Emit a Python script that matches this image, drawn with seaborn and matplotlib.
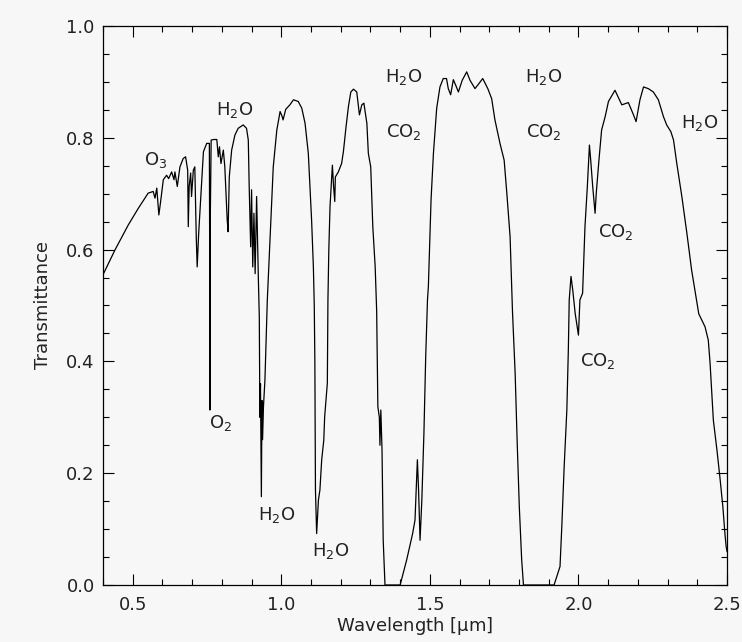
import numpy as np
import pandas as pd
import matplotlib
matplotlib.use("Agg")
import matplotlib.pyplot as plt
import seaborn as sns
from matplotlib.ticker import MultipleLocator

# wavelength [um] and transmittance
wavelength = [
    0.400, 0.440, 0.485, 0.519, 0.552, 0.569, 0.575, 0.581, 0.588, 0.594,
    0.603, 0.614, 0.621, 0.631, 0.639, 0.642, 0.650, 0.659, 0.670, 0.678,
    0.685, 0.687, 0.690, 0.695, 0.698, 0.704, 0.709, 0.714, 0.717, 0.722,
    0.730, 0.738, 0.749, 0.758, 0.759, 0.760, 0.761, 0.764, 0.774, 0.783,
    0.788, 0.792, 0.797, 0.805, 0.810, 0.818, 0.821, 0.825, 0.833, 0.844,
    0.855, 0.872, 0.883, 0.889, 0.892, 0.897, 0.900, 0.904, 0.908, 0.912,
    0.917, 0.923, 0.926, 0.928, 0.930, 0.933, 0.935, 0.937, 0.940, 0.945,
    0.947, 0.953, 0.964, 0.973, 0.985, 0.996, 1.003, 1.006, 1.015, 1.029,
    1.041, 1.057, 1.069, 1.080, 1.091, 1.102, 1.108, 1.111, 1.113, 1.115,
    1.119, 1.125, 1.130, 1.136, 1.143, 1.146, 1.155, 1.157, 1.160, 1.164,
    1.172, 1.176, 1.180, 1.182, 1.192, 1.203, 1.209, 1.218, 1.226, 1.234,
    1.243, 1.254, 1.263, 1.271, 1.278, 1.288, 1.293, 1.301, 1.308, 1.316,
    1.321, 1.325, 1.330, 1.332, 1.335, 1.339, 1.343, 1.349, 1.400, 1.422,
    1.442, 1.450, 1.458, 1.462, 1.467, 1.473, 1.480, 1.486, 1.492, 1.495,
    1.504, 1.512, 1.523, 1.534, 1.545, 1.556, 1.562, 1.570, 1.579, 1.587,
    1.596, 1.609, 1.624, 1.635, 1.652, 1.678, 1.695, 1.708, 1.719, 1.736,
    1.750, 1.759, 1.770, 1.778, 1.787, 1.794, 1.801, 1.809, 1.815, 1.918,
    1.938, 1.944, 1.952, 1.961, 1.966, 1.969, 1.975, 1.981, 1.989, 2.000,
    2.005, 2.014, 2.022, 2.030, 2.037, 2.041, 2.048, 2.056, 2.060, 2.069,
    2.078, 2.090, 2.101, 2.123, 2.146, 2.168, 2.183, 2.194, 2.207, 2.219,
    2.235, 2.252, 2.269, 2.286, 2.297, 2.311, 2.320, 2.331, 2.348, 2.365,
    2.381, 2.405, 2.426, 2.437, 2.443, 2.454, 2.466, 2.477, 2.486, 2.493,
    2.497, 2.500,
]
transmittance = [
    0.555, 0.599, 0.644, 0.674, 0.701, 0.704, 0.692, 0.710, 0.662, 0.686,
    0.725, 0.733, 0.727, 0.739, 0.725, 0.739, 0.713, 0.748, 0.763, 0.766,
    0.742, 0.641, 0.713, 0.737, 0.695, 0.742, 0.748, 0.620, 0.569, 0.629,
    0.701, 0.775, 0.790, 0.790, 0.600, 0.313, 0.650, 0.796, 0.797, 0.797,
    0.766, 0.784, 0.754, 0.778, 0.748, 0.653, 0.632, 0.730, 0.778, 0.805,
    0.817, 0.823, 0.817, 0.796, 0.713, 0.605, 0.707, 0.569, 0.665, 0.557,
    0.695, 0.545, 0.480, 0.300, 0.360, 0.158, 0.330, 0.260, 0.319, 0.367,
    0.402, 0.510, 0.641, 0.748, 0.814, 0.847, 0.838, 0.832, 0.851, 0.859,
    0.868, 0.865, 0.853, 0.826, 0.772, 0.653, 0.569, 0.500, 0.400, 0.170,
    0.092, 0.152, 0.170, 0.224, 0.259, 0.301, 0.361, 0.510, 0.600, 0.677,
    0.751, 0.713, 0.686, 0.730, 0.739, 0.754, 0.775, 0.820, 0.856, 0.882,
    0.887, 0.882, 0.841, 0.859, 0.862, 0.826, 0.772, 0.748, 0.641, 0.569,
    0.490, 0.319, 0.300, 0.250, 0.313, 0.242, 0.080, 0.000, 0.000, 0.045,
    0.092, 0.116, 0.224, 0.170, 0.080, 0.152, 0.271, 0.408, 0.510, 0.534,
    0.689, 0.772, 0.853, 0.891, 0.906, 0.906, 0.888, 0.877, 0.904, 0.894,
    0.882, 0.903, 0.918, 0.903, 0.888, 0.906, 0.888, 0.870, 0.832, 0.790,
    0.760, 0.701, 0.623, 0.490, 0.379, 0.253, 0.140, 0.045, 0.000, 0.000,
    0.033, 0.104, 0.212, 0.313, 0.420, 0.510, 0.552, 0.527, 0.486, 0.447,
    0.510, 0.522, 0.641, 0.713, 0.787, 0.762, 0.713, 0.665, 0.701, 0.760,
    0.814, 0.838, 0.865, 0.885, 0.859, 0.863, 0.844, 0.829, 0.868, 0.891,
    0.888, 0.882, 0.868, 0.838, 0.823, 0.811, 0.796, 0.754, 0.695, 0.629,
    0.563, 0.485, 0.462, 0.438, 0.397, 0.295, 0.242, 0.188, 0.140, 0.092,
    0.069, 0.060,
]

# absorber labels: text, x, y
label_text = [r'O$_3$', r'H$_2$O', r'H$_2$O', r'CO$_2$', r'H$_2$O', r'CO$_2$',
              r'H$_2$O', r'CO$_2$', r'CO$_2$', r'O$_2$', r'H$_2$O', r'H$_2$O']
label_x = [0.578, 0.843, 1.413, 1.414, 1.883, 1.883,
           2.409, 2.125, 2.064, 0.797, 0.986, 1.165]
label_y = [0.760, 0.850, 0.909, 0.811, 0.909, 0.811,
           0.826, 0.632, 0.400, 0.289, 0.125, 0.060]

df = pd.DataFrame({'wavelength': wavelength, 'transmittance': transmittance})

sns.set_style('ticks')
plt.rcParams['font.family'] = ['DejaVu Sans']
plt.rcParams['mathtext.default'] = 'regular'

bg = '#f7f7f7'
fig = plt.figure(figsize=(7.42, 6.42), dpi=100, facecolor=bg)
ax = fig.add_axes([0.1388, 0.0888, 0.841, 0.8707])
ax.set_facecolor(bg)

sns.lineplot(data=df, x='wavelength', y='transmittance', ax=ax,
             color='black', lw=0.9, sort=False, estimator=None)

for t, x, y in zip(label_text, label_x, label_y):
    ax.text(x, y, t, ha='center', va='center', fontsize=13, color='#222222')

ax.set_xlim(0.4, 2.5)
ax.set_ylim(0.0, 1.0)
ax.xaxis.set_major_locator(MultipleLocator(0.5))
ax.xaxis.set_minor_locator(MultipleLocator(0.1))
ax.yaxis.set_major_locator(MultipleLocator(0.2))
ax.yaxis.set_minor_locator(MultipleLocator(0.05))
ax.tick_params(which='both', direction='in', top=True, right=True,
               width=0.8, colors='black', labelsize=13, labelcolor='#222222')
ax.tick_params(which='major', length=8)
ax.tick_params(which='minor', length=4)
ax.tick_params(axis='x', which='major', pad=8)
ax.tick_params(axis='y', which='major', pad=6)
for s in ax.spines.values():
    s.set_linewidth(0.9)
    s.set_color('black')

ax.set_xlabel(r'Wavelength [$\mu$m]', fontsize=13, labelpad=1, color='#222222')
ax.set_ylabel('Transmittance', fontsize=13, labelpad=10, color='#222222')

fig.savefig('out.png', dpi=100, facecolor=bg)
